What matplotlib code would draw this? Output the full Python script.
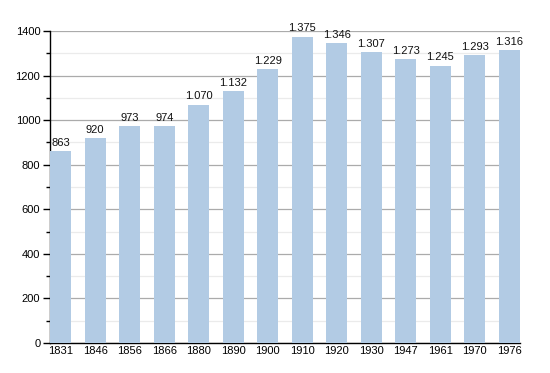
import numpy as np
import matplotlib.pyplot as plt
from matplotlib.ticker import MultipleLocator

# population figures
years = ['1831', '1846', '1856', '1866', '1880', '1890', '1900',
         '1910', '1920', '1930', '1947', '1961', '1970', '1976']
population = [863, 920, 973, 974, 1070, 1132, 1229,
              1375, 1346, 1307, 1273, 1245, 1293, 1316]

plt.rcParams['font.family'] = ['Liberation Sans', 'DejaVu Sans']

bar_color = '#b2cbe4'
bar_w = 0.62

fig = plt.figure(figsize=(5.5, 3.73), dpi=100)
ax = fig.add_axes([50/550, 30/373, 470/550, 312/373])

x = np.arange(len(years))
ax.bar(x, population, width=bar_w, color=bar_color, zorder=3)

# labels: thousands separated with a dot
for xi, v in zip(x, population):
    txt = f'{v:,}'.replace(',', '.')
    ax.text(xi, v + 14, txt, ha='center', va='bottom', fontsize=8, color='#111111', zorder=4)

ax.set_xlim(-bar_w/2, len(years) - 1 + bar_w/2)
ax.set_ylim(0, 1400)
ax.set_xticks(x)
ax.set_xticklabels(years)
ax.yaxis.set_major_locator(MultipleLocator(200))
ax.yaxis.set_minor_locator(MultipleLocator(100))

ax.grid(axis='y', which='major', color='#ababab', linewidth=0.9, zorder=0)
ax.grid(axis='y', which='minor', color='#ebebeb', linewidth=0.9, zorder=0)

for s in ['top', 'right']:
    ax.spines[s].set_visible(False)
ax.spines['left'].set_linewidth(1.0)
ax.spines['bottom'].set_linewidth(1.0)

ax.tick_params(axis='y', which='major', length=5, width=1, labelsize=8, pad=2)
ax.tick_params(axis='y', which='minor', length=3, width=1)
ax.tick_params(axis='x', length=0, labelsize=8, pad=2)

fig.savefig('out.png', dpi=100)
